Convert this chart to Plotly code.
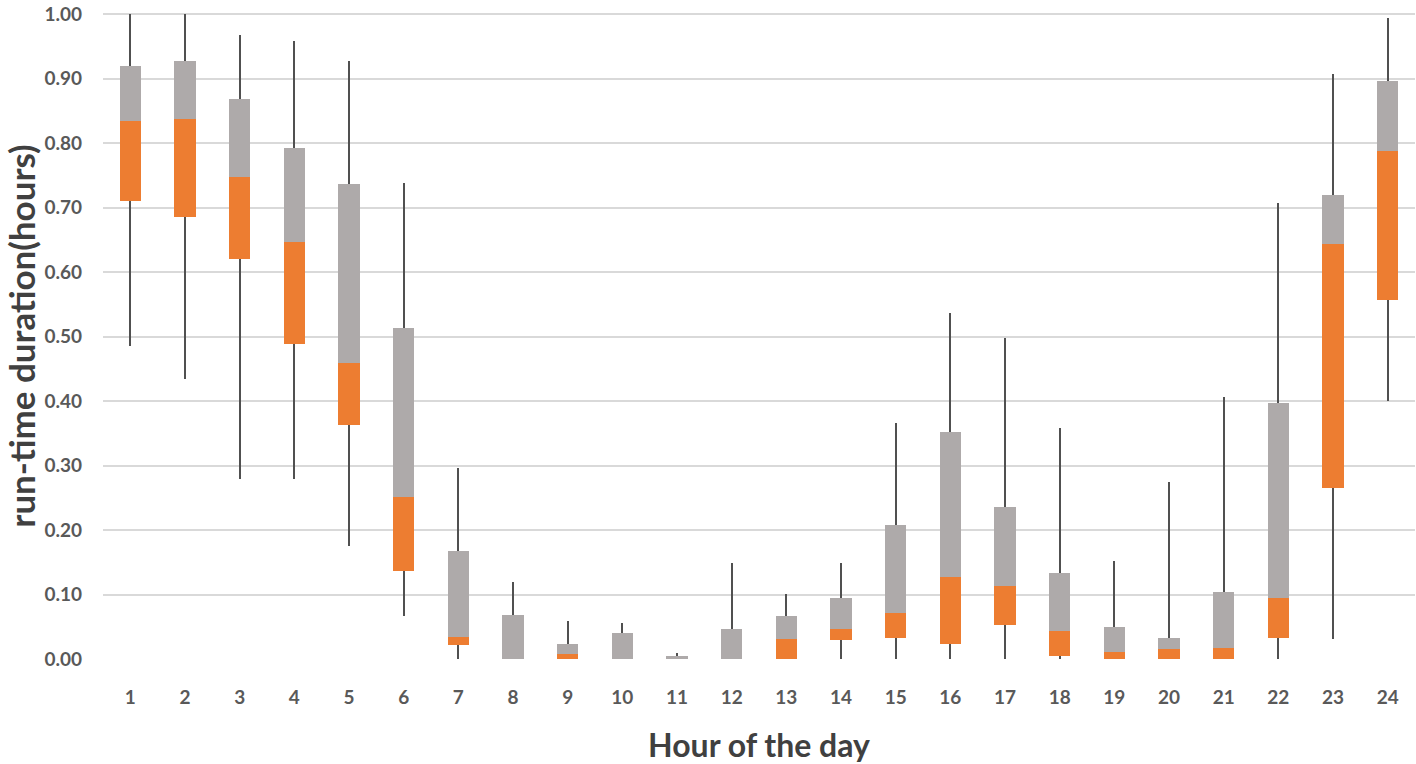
import plotly.graph_objects as go

hours = list(range(1, 25))
mins = [0.485, 0.434, 0.279, 0.279, 0.176, 0.066, 0.0, 0.0, 0.0, 0.0, 0.0, 0.0,
        0.0, 0.0, 0.0, 0.0, 0.0, 0.0, 0.0, 0.0, 0.0, 0.0, 0.031, 0.400]
q1 = [0.711, 0.685, 0.621, 0.489, 0.363, 0.137, 0.021, 0.0, 0.0, 0.0, 0.0, 0.0,
      0.0, 0.030, 0.033, 0.024, 0.053, 0.005, 0.0, 0.0, 0.0, 0.033, 0.266, 0.557]
medians = [0.834, 0.837, 0.747, 0.647, 0.459, 0.252, 0.034, 0.0, 0.008, 0.0, 0.0, 0.0,
           0.031, 0.046, 0.072, 0.127, 0.114, 0.043, 0.011, 0.015, 0.017, 0.094, 0.643, 0.788]
q3 = [0.920, 0.927, 0.868, 0.792, 0.736, 0.514, 0.168, 0.068, 0.023, 0.040, 0.004, 0.046,
      0.066, 0.094, 0.208, 0.352, 0.236, 0.133, 0.049, 0.033, 0.104, 0.397, 0.720, 0.897]
maxs = [1.000, 1.000, 0.968, 0.959, 0.927, 0.739, 0.297, 0.120, 0.059, 0.056, 0.010, 0.149,
        0.101, 0.149, 0.366, 0.536, 0.498, 0.359, 0.152, 0.275, 0.407, 0.707, 0.907, 0.994]
y_ticks = [0.0, 0.1, 0.2, 0.3, 0.4, 0.5, 0.6, 0.7, 0.8, 0.9, 1.0]

ORANGE = "#ED7D31"
GRAY = "#AEAAAA"
WHISK = "#505050"
BW = 0.385

lower = [a - b for a, b in zip(q1, mins)]
orange_h = [m - a for m, a in zip(medians, q1)]
gray_h = [c - m for c, m in zip(q3, medians)]
upper = [mx - c for mx, c in zip(maxs, q3)]

fig = go.Figure()
fig.add_trace(go.Bar(
    x=hours, y=q1, width=BW, marker=dict(color="rgba(0,0,0,0)", line=dict(width=0)),
    error_y=dict(type="data", symmetric=False, array=[0] * 24, arrayminus=lower,
                 color=WHISK, thickness=1.7, width=0),
    hoverinfo="skip", showlegend=False))
fig.add_trace(go.Bar(
    x=hours, y=orange_h, width=BW, marker=dict(color=ORANGE, line=dict(width=0)),
    showlegend=False))
fig.add_trace(go.Bar(
    x=hours, y=gray_h, width=BW, marker=dict(color=GRAY, line=dict(width=0)),
    error_y=dict(type="data", symmetric=False, array=upper, arrayminus=[0] * 24,
                 color=WHISK, thickness=1.7, width=0),
    showlegend=False))

tickfont = dict(family="Lato", size=19, color="#595959", weight="bold")
fig.update_layout(
    barmode="stack",
    width=1416, height=764,
    margin=dict(l=103, r=1, t=13, b=105),
    plot_bgcolor="white", paper_bgcolor="white",
    xaxis=dict(range=[0.5, 24.5], tickvals=hours, ticktext=[str(h) for h in hours],
               tickfont=tickfont, showgrid=False, zeroline=False, showline=False,
               ticks="", ticklabelstandoff=25, automargin=False,
               title=dict(text="Hour of the day", standoff=29,
                          font=dict(family="Lato", size=32, color="#404040", weight="bold"))),
    yaxis=dict(range=[0, 1.002], tickvals=y_ticks, ticktext=[f"{v:.2f}" for v in y_ticks],
               tickfont=tickfont, showgrid=True, gridcolor="#D9D9D9", gridwidth=1.5,
               zeroline=False, showline=False, ticks="", ticklabelstandoff=20,
               automargin=False,
               title=dict(text="run-time duration(hours)", standoff=11,
                          font=dict(family="Lato", size=35, color="#404040", weight="bold"))),
)
fig.write_html("out.html", config={"displayModeBar": False},
               post_script="document.body.style.margin='0';")
